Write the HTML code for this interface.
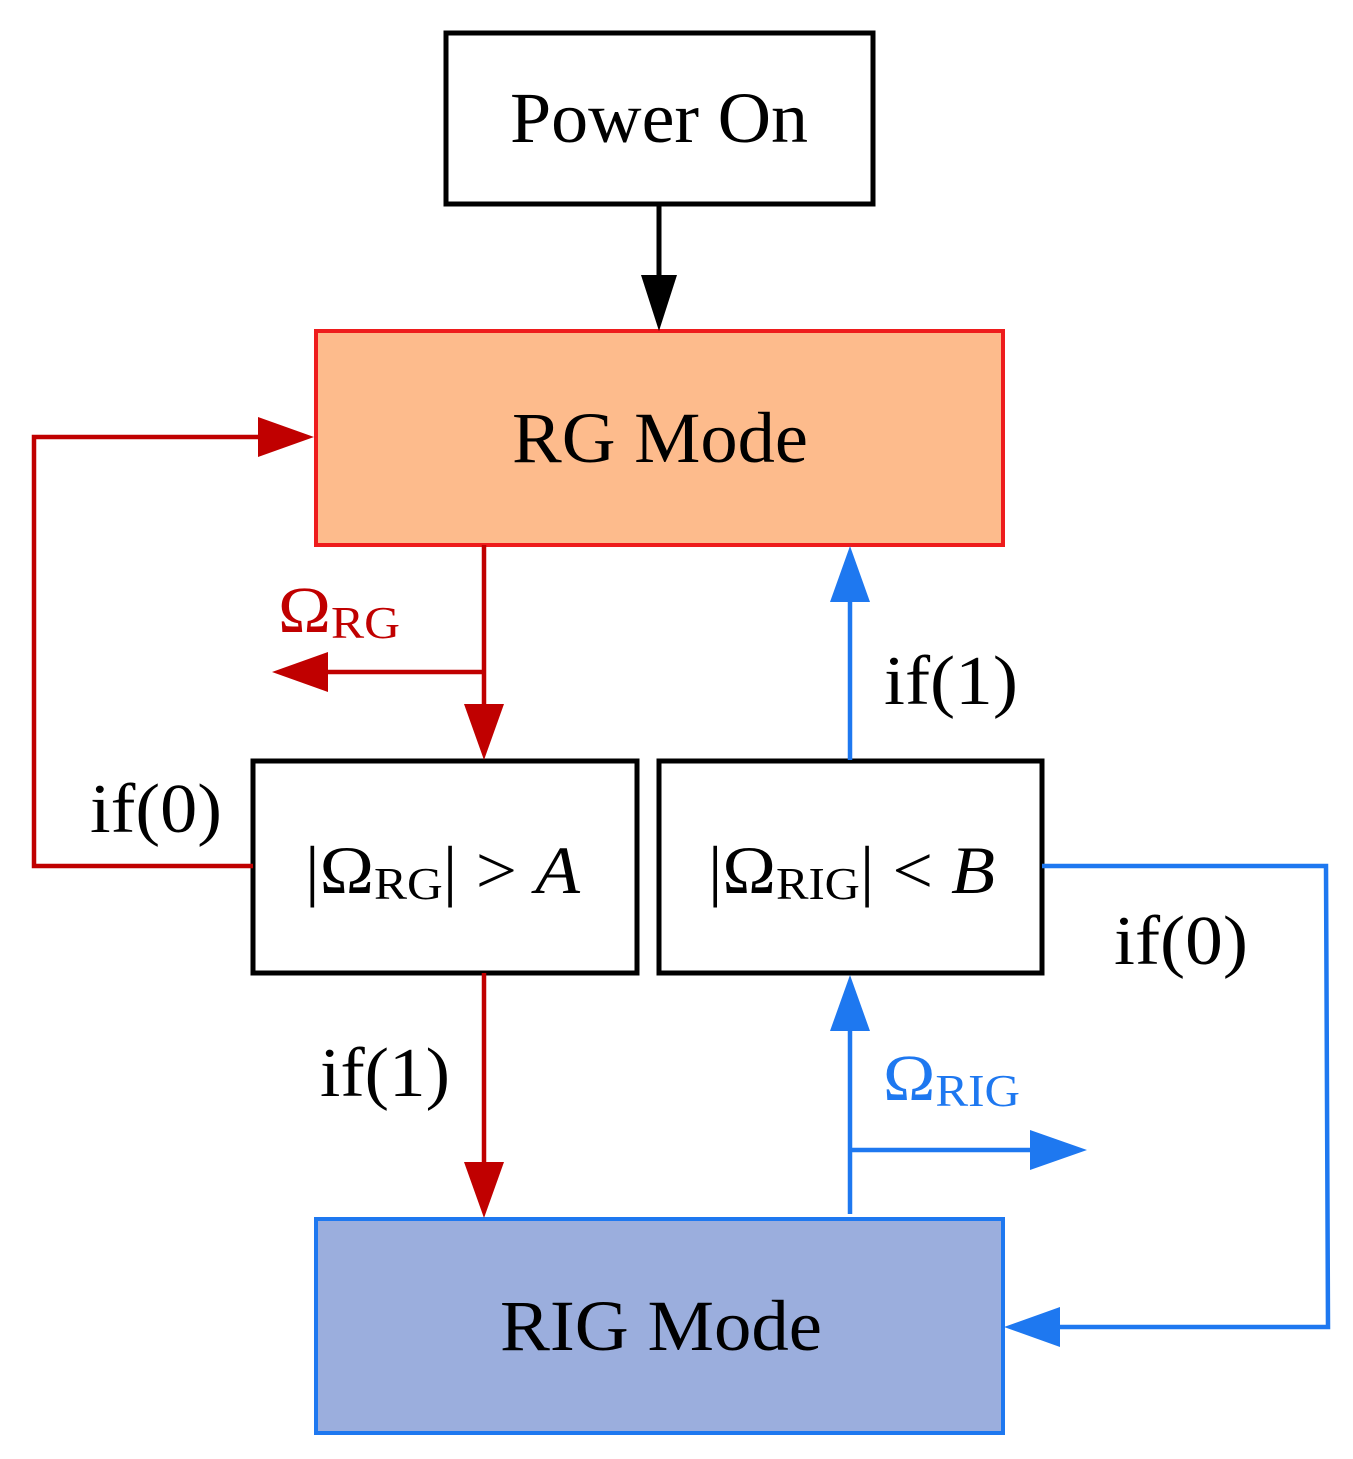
<!DOCTYPE html>
<html><head><meta charset="utf-8"><style>
html,body{margin:0;padding:0;background:#fff;}
svg{display:block;}
text{font-family:"Liberation Serif",serif;}
</style></head><body>
<svg width="1353" height="1459" viewBox="0 0 1353 1459" xmlns="http://www.w3.org/2000/svg">
<rect x="446" y="33" width="427" height="171" fill="#fff" stroke="#000" stroke-width="5"/>
<rect x="316" y="331" width="687" height="214" fill="#FDBB8C" stroke="#EE1C1C" stroke-width="4"/>
<rect x="253" y="761" width="384" height="212" fill="#fff" stroke="#000" stroke-width="5"/>
<rect x="659" y="761" width="383" height="212" fill="#fff" stroke="#000" stroke-width="5"/>
<rect x="316" y="1219" width="687" height="214" fill="#9BAEDD" stroke="#1E78F0" stroke-width="4"/>

<line x1="659" y1="204" x2="659" y2="280" stroke="#000" stroke-width="5"/>
<polygon points="641,275 677,275 659,331" fill="#000"/>

<g stroke="#C00000" stroke-width="4.5" fill="none">
<line x1="484" y1="545" x2="484" y2="710"/>
<line x1="484" y1="672" x2="322" y2="672"/>
<polyline points="253,866 34,866 34,437 265,437"/>
<line x1="484" y1="973" x2="484" y2="1170"/>
</g>
<g fill="#C00000">
<polygon points="464,704 504,704 484,760"/>
<polygon points="272,672 328,652 328,692"/>
<polygon points="258,417 258,457 314,437"/>
<polygon points="464,1162 504,1162 484,1218"/>
</g>
<text x="278" y="632" font-size="66" fill="#C00000" textLength="122" lengthAdjust="spacingAndGlyphs">Ω<tspan font-size="46" dy="6">RG</tspan></text>

<g stroke="#1E78F0" stroke-width="4.5" fill="none">
<line x1="850" y1="760" x2="850" y2="595"/>
<line x1="850" y1="1214" x2="850" y2="1025"/>
<line x1="850" y1="1150" x2="1035" y2="1150"/>
<polyline points="1042,866 1326,866 1328,1327 1055,1327"/>
</g>
<g fill="#1E78F0">
<polygon points="830,602 870,602 850,546"/>
<polygon points="830,1031 870,1031 850,975"/>
<polygon points="1030,1130 1030,1170 1087,1150"/>
<polygon points="1060,1307 1060,1347 1004,1327"/>
</g>
<text x="883" y="1100" font-size="66" fill="#1E78F0" textLength="137" lengthAdjust="spacingAndGlyphs">Ω<tspan font-size="46" dy="6">RIG</tspan></text>

<text x="510" y="142" font-size="72" textLength="298" lengthAdjust="spacingAndGlyphs">Power On</text>
<text x="512" y="462" font-size="72" textLength="296" lengthAdjust="spacingAndGlyphs">RG Mode</text>
<text x="500" y="1350" font-size="72" textLength="322" lengthAdjust="spacingAndGlyphs">RIG Mode</text>
<text x="305" y="893" font-size="68" textLength="275" lengthAdjust="spacingAndGlyphs">|Ω<tspan font-size="46" dy="6">RG</tspan><tspan dy="-6">|  &gt;  </tspan><tspan font-style="italic">A</tspan></text>
<text x="708" y="893" font-size="68" textLength="287" lengthAdjust="spacingAndGlyphs">|Ω<tspan font-size="46" dy="6">RIG</tspan><tspan dy="-6">|  &lt;  </tspan><tspan font-style="italic">B</tspan></text>
<text x="90" y="832" font-size="70" textLength="132" lengthAdjust="spacingAndGlyphs">if(0)</text>
<text x="884" y="704" font-size="70" textLength="134" lengthAdjust="spacingAndGlyphs">if(1)</text>
<text x="320" y="1096" font-size="70" textLength="130" lengthAdjust="spacingAndGlyphs">if(1)</text>
<text x="1114" y="964" font-size="70" textLength="134" lengthAdjust="spacingAndGlyphs">if(0)</text>
</svg>
</body></html>
